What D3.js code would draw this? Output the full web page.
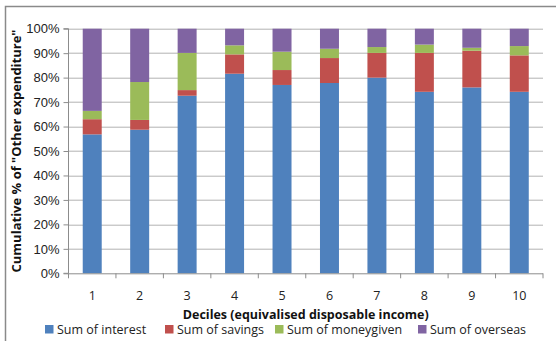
<!DOCTYPE html>
<html>
<head>
<meta charset="utf-8">
<script src="https://cdn.jsdelivr.net/npm/d3@7"></script>
<style>
  html, body { margin: 0; padding: 0; background: #fff; }
  svg { display: block; font-family: "Open Sans", "Liberation Sans", sans-serif; }
</style>
</head>
<body>
<svg id="chart" width="559" height="341"></svg>
<script>
// Deciles of equivalised disposable income
const deciles = ["1", "2", "3", "4", "5", "6", "7", "8", "9", "10"];
// Share of "other expenditure" by component (percent of each decile's total)
const interest   = [56.8, 58.7, 72.6, 81.6, 77.0, 77.8, 80.0, 74.2, 76.0, 74.2];
const savings    = [6.2, 4.0, 2.3, 7.9, 6.1, 10.2, 10.1, 15.9, 15.0, 14.9];
const moneygiven = [3.4, 15.5, 15.2, 3.7, 7.5, 3.8, 2.4, 3.4, 1.2, 3.8];
const overseas   = [33.6, 21.8, 9.9, 6.8, 9.4, 8.2, 7.5, 6.5, 7.8, 7.1];

const seriesNames = ["Sum of interest", "Sum of savings", "Sum of moneygiven", "Sum of overseas"];
const seriesColors = ["#4F81BD", "#C0504D", "#9BBB59", "#8064A2"];
const yTicks = [0, 0.1, 0.2, 0.3, 0.4, 0.5, 0.6, 0.7, 0.8, 0.9, 1.0];

const rows = deciles.map((d, i) => ({
  decile: d,
  s0: interest[i], s1: savings[i], s2: moneygiven[i], s3: overseas[i]
}));

const svg = d3.select("#chart");
const margin = { left: 68.5, right: 16, top: 28.7, bottom: 67.7 };
const W = 559, H = 341;
const plotW = W - margin.left - margin.right;
const plotH = H - margin.top - margin.bottom;

// chart frame (left and top edges)
svg.append("path")
  .attr("d", `M5.5,${H} V6.5 H556`)
  .attr("fill", "none").attr("stroke", "#8a8a8a").attr("stroke-width", 1.5);

const g = svg.append("g").attr("transform", `translate(${margin.left},${margin.top})`);

const x = d3.scaleBand().domain(deciles).range([0, plotW]).paddingInner(0.6).paddingOuter(0.3);
const y = d3.scaleLinear().domain([0, 1]).range([plotH, 0]);

// gridlines
g.append("g").selectAll("line").data(yTicks.slice(1)).join("line")
  .attr("x1", 0).attr("x2", plotW)
  .attr("y1", d => Math.round(y(d)) + 0.5).attr("y2", d => Math.round(y(d)) + 0.5)
  .attr("stroke", "#b3b3b3").attr("stroke-width", 1);

// stacked, normalised bars
const keys = ["s0", "s1", "s2", "s3"];
const stack = d3.stack().keys(keys).offset(d3.stackOffsetExpand);
const layers = stack(rows);

g.append("g").selectAll("g").data(layers).join("g")
  .attr("fill", (d, i) => seriesColors[i])
  .selectAll("rect").data(d => d).join("rect")
  .attr("x", d => x(d.data.decile))
  .attr("width", x.bandwidth())
  .attr("y", d => y(d[1]))
  .attr("height", d => y(d[0]) - y(d[1]));

// y axis
const yAxis = d3.axisLeft(y).tickValues(yTicks).tickFormat(d3.format(".0%")).tickSize(5).tickPadding(4);
const yg = g.append("g").call(yAxis);
yg.select(".domain").attr("stroke", "#8c8c8c").attr("d", `M-5,${plotH}H0V0H-5`);
yg.selectAll(".tick line").attr("stroke", "#8c8c8c");
yg.selectAll("text").attr("font-size", 13).attr("fill", "#222");

// x axis with ticks between categories
const xg = g.append("g").attr("transform", `translate(0,${plotH})`);
xg.append("line").attr("x1", 0).attr("x2", plotW).attr("y1", 0.5).attr("y2", 0.5).attr("stroke", "#8c8c8c");
const step = plotW / deciles.length;
xg.selectAll("line.tk").data(d3.range(deciles.length + 1)).join("line").attr("class", "tk")
  .attr("x1", i => i * step).attr("x2", i => i * step)
  .attr("y1", 0).attr("y2", 5).attr("stroke", "#8c8c8c");
xg.selectAll("text").data(deciles).join("text")
  .attr("x", d => x(d) + x.bandwidth() / 2)
  .attr("y", 27).attr("text-anchor", "middle")
  .attr("font-size", 12.5).attr("fill", "#222").text(d => d);

// axis titles
svg.append("text")
  .attr("x", margin.left + plotW / 2).attr("y", 318.5)
  .attr("text-anchor", "middle").attr("font-size", 12.5).attr("font-weight", "bold").attr("fill", "#111")
  .text("Deciles (equivalised disposable income)");

svg.append("text")
  .attr("transform", `translate(21,${margin.top + plotH / 2}) rotate(-90)`)
  .attr("text-anchor", "middle").attr("font-size", 13).attr("font-weight", "bold").attr("fill", "#111")
  .text("Cumulative % of \"Other expenditure\"");

// legend
const legendX = [45, 165, 275, 418];
const lg = svg.append("g");
seriesNames.forEach((name, i) => {
  lg.append("rect").attr("x", legendX[i]).attr("y", 325).attr("width", 8.5).attr("height", 8.5).attr("fill", seriesColors[i]);
  lg.append("text").attr("x", legendX[i] + 12).attr("y", 334)
    .attr("font-size", 12.5).attr("fill", "#222").text(name);
});
</script>
</body>
</html>
